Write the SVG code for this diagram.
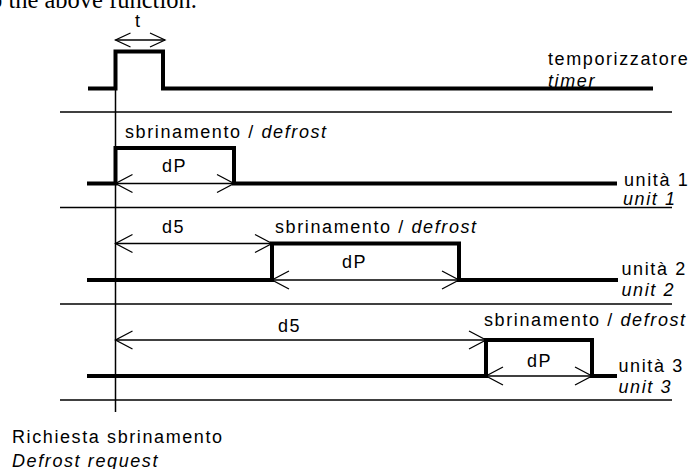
<svg xmlns="http://www.w3.org/2000/svg" width="692" height="469" viewBox="0 0 692 469">
<style>
.sig{fill:none;stroke:#000;stroke-width:4;stroke-linejoin:miter;stroke-linecap:butt}
.sep{fill:none;stroke:#000;stroke-width:1.5}
.dim{fill:none;stroke:#000;stroke-width:1.3}
.lbl{font-family:"Liberation Sans",Arial,sans-serif;font-size:18px;letter-spacing:1.6px;fill:#000}
.it{font-style:italic}
.top{font-family:"Liberation Serif","Times New Roman",serif;font-size:24.5px;fill:#000}
</style>
<defs>
<marker id="ah" markerUnits="userSpaceOnUse" orient="auto-start-reverse" overflow="visible" markerWidth="1" markerHeight="1" refX="0" refY="0">
<path d="M-17,-9 L0,0 L-17,9" fill="none" stroke="#000" stroke-width="1.3"/>
</marker>
<marker id="ahs" markerUnits="userSpaceOnUse" orient="auto-start-reverse" overflow="visible" markerWidth="1" markerHeight="1" refX="0" refY="0">
<path d="M-15,-7 L0,0 L-15,7" fill="none" stroke="#000" stroke-width="1.3"/>
</marker>
</defs>
<rect width="692" height="469" fill="#fff"/>
<text class="top" x="-10" y="8">o the above function.</text>
<g id="grid">
<line class="sep" x1="60" y1="112" x2="672" y2="112"/>
<line class="sep" x1="60" y1="207.5" x2="672" y2="207.5"/>
<line class="sep" x1="60" y1="304" x2="672" y2="304"/>
<line class="sep" x1="60" y1="400" x2="672" y2="400"/>
<line class="sep" x1="115.5" y1="88" x2="115.5" y2="412"/>
</g>
<g id="timer">
<polyline class="sig" points="88,88.5 115.5,88.5 115.5,51.5 163,51.5 163,88.5 653,88.5"/>
<text class="lbl" x="135" y="27">t</text>
<text class="lbl" x="548" y="65">temporizzatore</text>
<text class="lbl it" x="548" y="86.5">timer</text>
</g>
<g id="unit1">
<polyline class="sig" points="87,183.5 115.5,183.5 115.5,148 234,148 234,183.5 617,183.5"/>
<text class="lbl" x="125" y="137.5">sbrinamento / <tspan class="it">defrost</tspan></text>
<text class="lbl" x="162" y="171.5">dP</text>
<text class="lbl" x="624" y="186">unità 1</text>
<text class="lbl it" x="623" y="205">unit 1</text>
</g>
<g id="unit2">
<polyline class="sig" points="87,280 272,280 272,243.5 459,243.5 459,280 618,280"/>
<text class="lbl" x="162" y="233">d5</text>
<text class="lbl" x="275" y="232.5">sbrinamento / <tspan class="it">defrost</tspan></text>
<text class="lbl" x="342" y="268">dP</text>
<text class="lbl" x="621.5" y="275">unità 2</text>
<text class="lbl it" x="621.5" y="296">unit 2</text>
</g>
<g id="unit3">
<polyline class="sig" points="87,376 486,376 486,340 592,340 592,376 617,376"/>
<text class="lbl" x="278" y="331.5">d5</text>
<text class="lbl" x="484" y="326">sbrinamento / <tspan class="it">defrost</tspan></text>
<text class="lbl" x="527" y="366.5">dP</text>
<text class="lbl" x="618.5" y="371.5">unità 3</text>
<text class="lbl it" x="618.5" y="393">unit 3</text>
</g>
<g id="request">
<text class="lbl" x="12" y="443">Richiesta sbrinamento</text>
<text class="lbl it" x="12" y="467">Defrost request</text>
</g>
<g id="connectors">
<line class="dim" x1="115.5" y1="40" x2="165" y2="40" marker-start="url(#ahs)" marker-end="url(#ahs)"/>
<line class="dim" x1="115.5" y1="183.5" x2="234" y2="183.5" marker-start="url(#ah)" marker-end="url(#ah)"/>
<line class="dim" x1="115.5" y1="243.5" x2="272" y2="243.5" marker-start="url(#ah)" marker-end="url(#ah)"/>
<line class="dim" x1="272" y1="280" x2="459" y2="280" marker-start="url(#ah)" marker-end="url(#ah)"/>
<line class="dim" x1="115.5" y1="340" x2="486" y2="340" marker-start="url(#ah)" marker-end="url(#ah)"/>
<line class="dim" x1="486" y1="376" x2="592" y2="376" marker-start="url(#ah)" marker-end="url(#ah)"/>
</g>
</svg>
